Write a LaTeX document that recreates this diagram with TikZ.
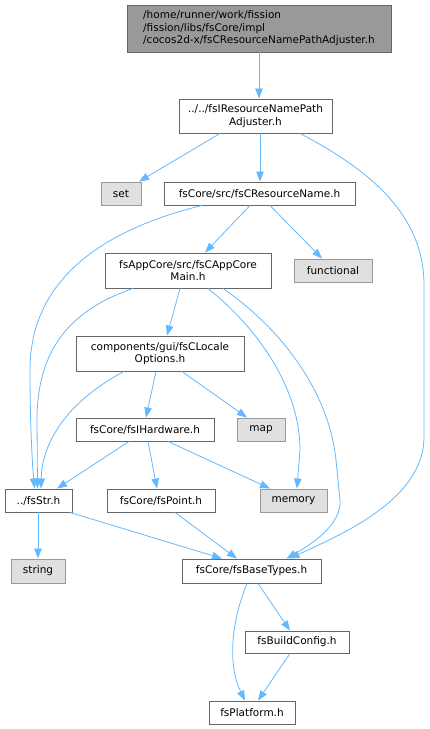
\documentclass[tikz,border=0pt]{standalone}
\usepackage{fontspec}
\setmainfont{DejaVu Sans}
\usetikzlibrary{arrows.meta}
\definecolor{edgecol}{HTML}{63B8FF}
\definecolor{bordcol}{HTML}{666666}
\definecolor{sysbord}{HTML}{999999}
\definecolor{sysfill}{HTML}{E0E0E0}
\definecolor{topfill}{HTML}{999999}
\begin{document}
\begin{tikzpicture}[x=1pt,y=-1pt,
  box/.style={draw=bordcol,fill=white,line width=0.9pt,inner sep=0pt,align=center,
    font=\fontsize{10.5}{12.5}\selectfont},
  sysbox/.style={box,draw=sysbord,fill=sysfill},
  topbox/.style={box,fill=topfill,align=left},
  edge/.style={draw=edgecol,line width=0.8pt,-{Triangle[length=10pt,width=7.5pt]}}]
\useasboundingbox (0,0) rectangle (429,729);
% nodes
\node[topbox,minimum width=264,minimum height=47] (top) at (259,28.5)
  {/home/runner/work/fission\\/fission/libs/fsCore/impl\\/cocos2d-x/fsCResourceNamePathAdjuster.h};
\node[box,minimum width=153,minimum height=34] (adj) at (255.5,116) {../../fsIResourceNamePath\\Adjuster.h};
\node[sysbox,minimum width=40,minimum height=23] (set) at (121,193.5) {set};
\node[box,minimum width=191,minimum height=23] (res) at (259.5,193.5) {fsCore/src/fsCResourceName.h};
\node[box,minimum width=166,minimum height=35] (app) at (188,270.5) {fsAppCore/src/fsCAppCore\\Main.h};
\node[sysbox,minimum width=78,minimum height=23] (func) at (333,270.5) {functional};
\node[box,minimum width=168,minimum height=35] (loc) at (160,353.5) {components/gui/fsCLocale\\Options.h};
\node[box,minimum width=138,minimum height=23] (hw) at (145,429.5) {fsCore/fsIHardware.h};
\node[sysbox,minimum width=48,minimum height=23] (map) at (261,429.5) {map};
\node[box,minimum width=67,minimum height=23] (str) at (38.5,500.5) {../fsStr.h};
\node[box,minimum width=108,minimum height=23] (pt) at (161,500.5) {fsCore/fsPoint.h};
\node[sysbox,minimum width=67,minimum height=23] (mem) at (293.5,500.5) {memory};
\node[sysbox,minimum width=54,minimum height=24] (string) at (38,571) {string};
\node[box,minimum width=139,minimum height=24] (base) at (251.5,571) {fsCore/fsBaseTypes.h};
\node[box,minimum width=104,minimum height=22] (build) at (297,642) {fsBuildConfig.h};
\node[box,minimum width=86,minimum height=23] (plat) at (252,712.5) {fsPlatform.h};
% edges
\draw[edge] (top.south) -- ([xshift=3.5]adj.north);
\draw[edge] ([xshift=-35.5]adj.south) -- ([xshift=18]set.north);
\draw[edge] ([xshift=4.5]adj.south) -- ([xshift=0.5]res.north);
\draw[edge] ([xshift=44.5]adj.south) .. controls (370,170) and (424,215) .. (424,285)
  -- (424,437) .. controls (424,500) and (340,535) .. ([xshift=38]base.north);
\draw[edge] ([xshift=-57.5]res.south) .. controls (110,228) and (30,275) .. (30,370)
  .. controls (30,420) and (32,460) .. ([xshift=-4]str.north);
\draw[edge] ([xshift=-9.5]res.south) -- ([xshift=17]app.north);
\draw[edge] ([xshift=10.5]res.south) -- ([xshift=-11]func.north);
\draw[edge] ([xshift=-55]app.south) .. controls (70,310) and (37,350) .. (37,420)
  -- ([xshift=-1]str.north);
\draw[edge] ([xshift=-8]app.south) -- ([xshift=7]loc.north);
\draw[edge] ([xshift=20]app.south) .. controls (260,330) and (300,390) .. (300,450)
  -- ([xshift=3.5]mem.north);
\draw[edge] ([xshift=35]app.south) .. controls (290,335) and (330,400) .. (336,460)
  -- (340,500) .. controls (342,525) and (310,545) .. ([xshift=35]base.north);
\draw[edge] ([xshift=-36]loc.south) .. controls (70,400) and (42,440) .. ([xshift=2.5]str.north);
\draw[edge] ([xshift=-4]loc.south) -- ([xshift=1]hw.north);
\draw[edge] ([xshift=22]loc.south) -- ([xshift=-14]map.north);
\draw[edge] ([xshift=-16]hw.south) -- ([xshift=18.5]str.north);
\draw[edge] ([xshift=3]hw.south) -- ([xshift=-4]pt.north);
\draw[edge] ([xshift=23]hw.south) -- ([xshift=-23.5]mem.north);
\draw[edge] ([xshift=-0.5]str.south) -- (string.north);
\draw[edge] ([xshift=31.5]str.south) -- ([xshift=-29.5]base.north);
\draw[edge] ([xshift=14]pt.south) -- ([xshift=-14.5]base.north);
\draw[edge] ([xshift=6.5]base.south) -- ([xshift=-7]build.north);
\draw[edge] ([xshift=-4.5]base.south) .. controls (228,630) and (230,670) .. ([xshift=-7]plat.north);
\draw[edge] ([xshift=-7]build.south) -- ([xshift=6]plat.north);
\end{tikzpicture}
\end{document}
